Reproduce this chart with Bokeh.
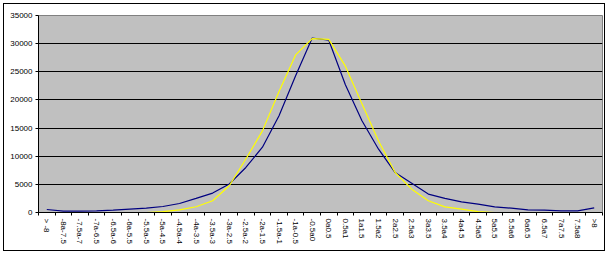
from bokeh.plotting import figure
from bokeh.models import FixedTicker, Range1d
from bokeh.embed import file_html
from bokeh.resources import INLINE

cats = ["> -8", "-8a-7.5", "-7.5a-7", "-7a-6.5", "-6.5a-6", "-6a-5.5", "-5.5a-5",
        "-5a-4.5", "-4.5a-4", "-4a-3.5", "-3.5a-3", "-3a-2.5", "-2.5a-2", "-2a-1.5",
        "-1.5a-1", "-1a-0.5", "-0.5a0", "0a0.5", "0.5a1", "1a1.5", "1.5a2", "2a2.5",
        "2.5a3", "3a3.5", "3.5a4", "4a4.5", "4.5a5", "5a5.5", "5.5a6", "6a6.5",
        "6.5a7", "7a7.5", "7.5a8", ">8"]

blue = [530, 240, 240, 300, 420, 600, 770, 1070, 1600, 2500, 3450, 5060, 8000,
        11600, 17200, 24300, 31000, 30600, 22700, 16300, 11250, 7100, 5200, 3270,
        2500, 1900, 1490, 1000, 770, 475, 420, 300, 300, 830]

yellow = [0, 0, 0, 0, 0, 0, 0, 150, 480, 1020, 2090, 4760, 9500, 14500, 21500,
          28000, 30900, 30750, 26000, 19300, 12700, 7100, 4150, 2080, 1000, 600,
          150, 0, 0, 0, 0, 0, 0, 0]

y_ticks = [0, 5000, 10000, 15000, 20000, 25000, 30000, 35000]

n = len(cats)
xs = [i + 0.5 for i in range(n)]

p = figure(width=602, height=248, output_backend="svg", toolbar_location=None,
           x_range=Range1d(0, n), y_range=Range1d(0, 35000),
           min_border_left=34, min_border_right=4, min_border_top=11, min_border_bottom=40)
p.styles = {"border": "1px solid black", "margin-left": "3px", "margin-top": "3px"}

p.background_fill_color = "#C0C0C0"
p.border_fill_color = "white"
p.outline_line_color = "#808080"
p.outline_line_width = 1

p.line(xs, blue, line_color="#000080", line_width=1.2)
p.line(xs, yellow, line_color="#FFFF00", line_width=1.2)

# x axis
p.xaxis.ticker = FixedTicker(ticks=xs, minor_ticks=list(range(n + 1)))
p.xaxis.major_label_overrides = {x: c for x, c in zip(xs, cats)}
p.xaxis.major_label_orientation = "vertical"
p.xaxis.major_tick_line_color = None
p.xaxis.major_tick_out = 0
p.xaxis.major_tick_in = 0
p.xaxis.minor_tick_line_color = "black"
p.xaxis.minor_tick_out = 3
p.xaxis.minor_tick_in = 0
p.xaxis.major_label_standoff = 3
p.xaxis.major_label_text_font = "Liberation Sans"
p.xaxis.major_label_text_font_size = "8px"
p.xaxis.major_label_text_color = "black"
p.xaxis.axis_line_color = "black"

# y axis
p.yaxis.ticker = FixedTicker(ticks=y_ticks)
p.yaxis.major_tick_out = 3
p.yaxis.major_tick_in = 0
p.yaxis.minor_tick_line_color = None
p.yaxis.major_tick_line_color = "black"
p.yaxis.major_label_standoff = 3
p.yaxis.major_label_text_font = "Liberation Sans"
p.yaxis.major_label_text_font_size = "8px"
p.yaxis.major_label_text_color = "black"
p.yaxis.axis_line_color = "black"

p.xgrid.grid_line_color = None
p.ygrid.ticker = FixedTicker(ticks=y_ticks[1:-1])
p.ygrid.grid_line_color = "black"
p.ygrid.grid_line_width = 1
p.ygrid.grid_line_alpha = 1.0

open("out.html", "w").write(file_html(p, INLINE))
